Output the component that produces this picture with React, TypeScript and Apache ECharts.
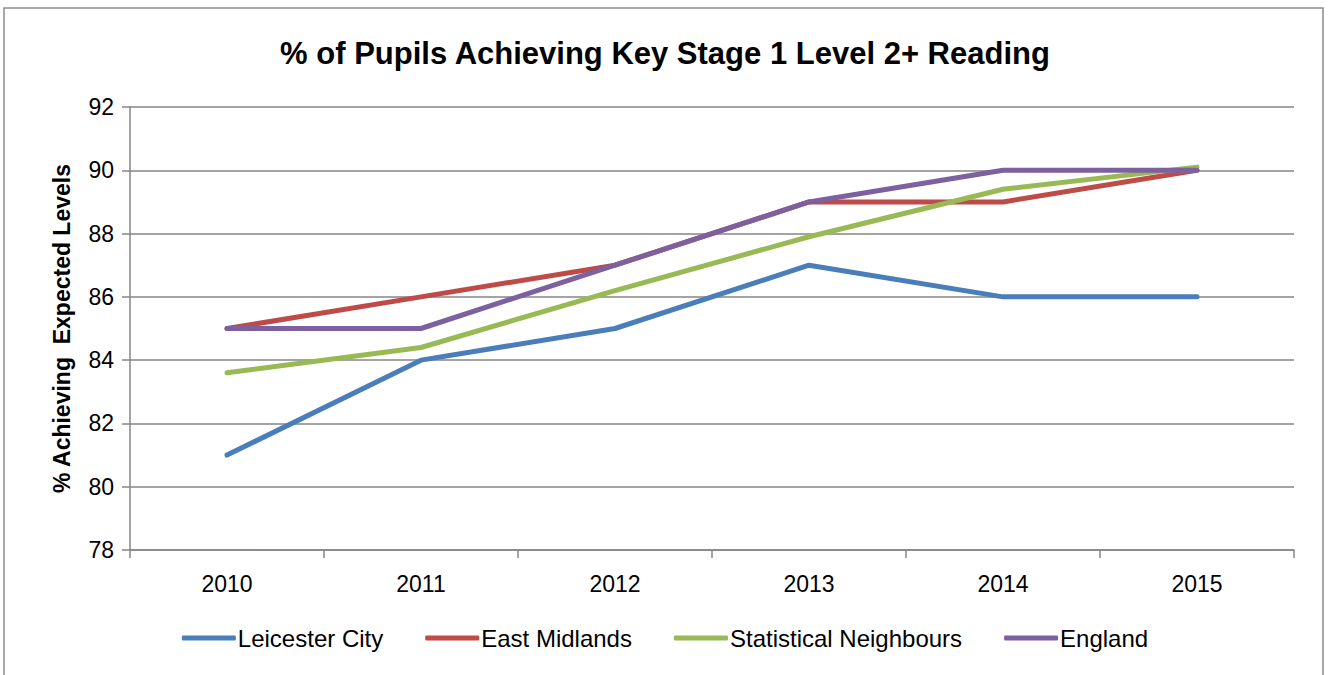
import React, { useEffect, useRef } from "react";
import * as echarts from "echarts";

const years = ["2010", "2011", "2012", "2013", "2014", "2015"];
const leicester = [81, 84, 85, 87, 86, 86];
const eastMidlands = [85, 86, 87, 89, 89, 90];
const statNeighbours = [83.6, 84.4, 86.2, 87.9, 89.4, 90.1];
const england = [85, 85, 87, 89, 90, 90];

const seriesNames = ["Leicester City", "East Midlands", "Statistical Neighbours", "England"];
const seriesColors = ["#4a7ebb", "#be4b48", "#98b954", "#7d60a0"];
const seriesData = [leicester, eastMidlands, statNeighbours, england];

const FONT = "'Liberation Sans', Arial, sans-serif";

export default function App() {
  const ref = useRef<HTMLDivElement>(null);
  useEffect(() => {
    if (!ref.current) return;
    const chart = echarts.init(ref.current, null, { renderer: "svg" });
    chart.setOption({
      animation: false,
      backgroundColor: "#ffffff",
      title: {
        text: "% of Pupils Achieving Key Stage 1 Level 2+ Reading",
        left: "center",
        top: 33,
        textStyle: { fontFamily: FONT, fontSize: 31, fontWeight: "bold", color: "#000" },
      },
      graphic: [
        {
          type: "rect",
          shape: { x: 4, y: 8, width: 1319, height: 680 },
          style: { fill: "none", stroke: "#8c8c8c", lineWidth: 1.5 },
          silent: true,
        },
      ],
      legend: {
        bottom: 20,
        left: "center",
        itemWidth: 54,
        itemHeight: 5,
        itemGap: 42,
        icon: "roundRect",
        textStyle: { fontFamily: FONT, fontSize: 24, color: "#000", padding: [0, 0, 0, -3] },
        data: seriesNames,
      },
      grid: { left: 130, right: 36, top: 107, bottom: 125, containLabel: false },
      xAxis: {
        type: "category",
        data: years,
        boundaryGap: true,
        axisLine: { lineStyle: { color: "#868686", width: 1.5 } },
        axisTick: { show: true, length: 8, interval: 0, lineStyle: { color: "#868686", width: 1.5 } },
        axisLabel: { fontFamily: FONT, fontSize: 23, color: "#000", margin: 22 },
      },
      yAxis: {
        type: "value",
        min: 78,
        max: 92,
        interval: 2,
        name: "% Achieving  Expected Levels",
        nameLocation: "middle",
        nameGap: 57,
        nameTextStyle: { fontFamily: FONT, fontSize: 23, fontWeight: "bold", color: "#000" },
        axisLine: { show: true, lineStyle: { color: "#868686", width: 1.5 } },
        axisTick: { show: true, length: 8, lineStyle: { color: "#868686", width: 1.5 } },
        axisLabel: { fontFamily: FONT, fontSize: 23, color: "#000", margin: 16 },
        splitLine: { show: true, lineStyle: { color: "#868686", width: 1.5 } },
      },
      series: seriesNames.map((name, i) => ({
        name,
        type: "line",
        data: seriesData[i],
        symbol: "none",
        lineStyle: { color: seriesColors[i], width: 5, cap: "round", join: "round" },
        itemStyle: { color: seriesColors[i] },
      })),
    });
    return () => chart.dispose();
  }, []);
  return (
    <div
      ref={ref}
      style={{ position: "absolute", left: 0, top: 0, width: 1330, height: 675 }}
    />
  );
}
